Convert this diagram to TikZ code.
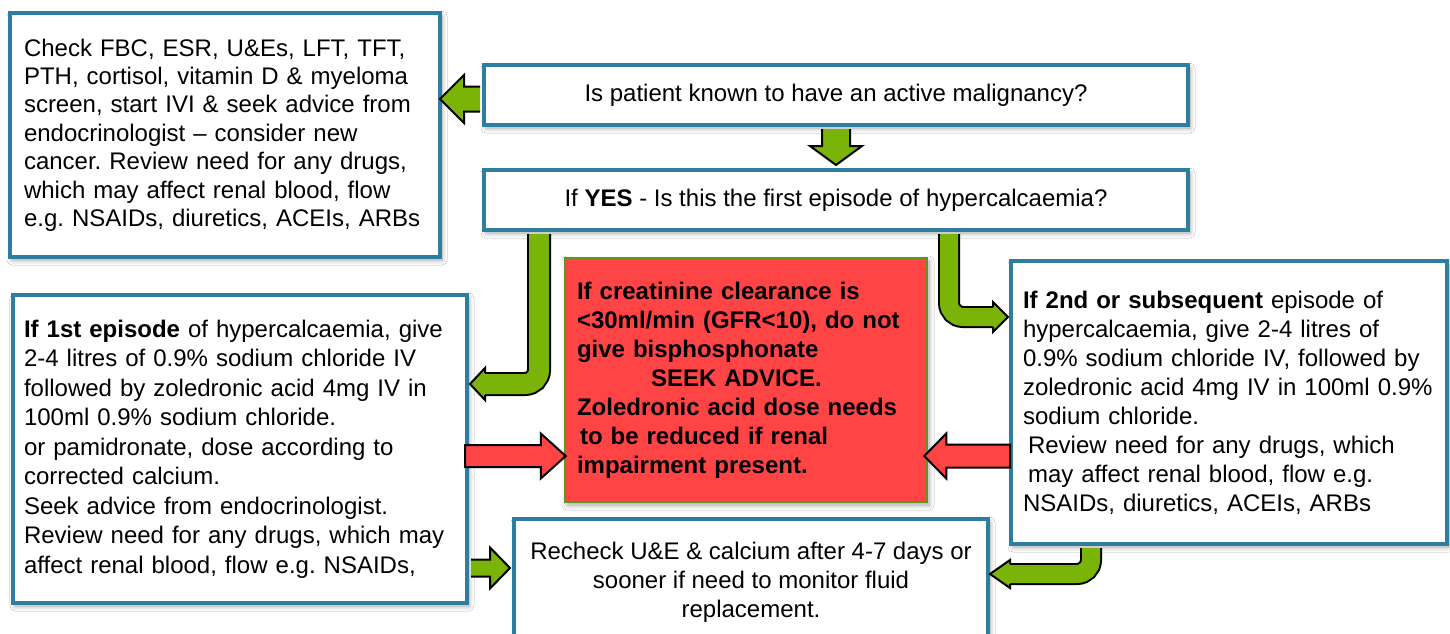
\documentclass[tikz,border=0pt]{standalone}
\usepackage{fontspec}
\setmainfont{Liberation Sans}
\usetikzlibrary{calc,shadows.blur}

\definecolor{boxblue}{RGB}{46,126,162}
\definecolor{arrowgreen}{RGB}{122,180,8}
\definecolor{alertred}{RGB}{255,68,70}
\definecolor{alertedge}{RGB}{96,150,28}

\tikzset{
  softshadow/.style={blur shadow={shadow xshift=2pt, shadow yshift=-3pt,
      shadow blur radius=5pt, shadow blur steps=8, shadow opacity=35}},
  flowbox/.style={draw=boxblue, line width=4pt, fill=white, inner ysep=0pt,
      font=\fontsize{24}{29}\selectfont\frenchspacing, softshadow},
  alertbox/.style={draw=alertedge, line width=2.5pt, fill=alertred, inner ysep=0pt,
      font=\fontsize{24}{29}\selectfont\bfseries\frenchspacing, softshadow},
  garrow/.style={fill=arrowgreen, draw=black, line width=2pt, line join=miter},
  rarrow/.style={fill=alertred, draw=black, line width=2pt, line join=miter},
  gbandout/.style={draw=black, line cap=butt, rounded corners=14pt},
  gbandin/.style={draw=arrowgreen, line cap=butt, rounded corners=14pt},
}

% straight block arrow, open at its start: style, start, tip, shaft half width, head half width, head length
\newcommand{\BlockArrowOpen}[6]{%
  \coordinate (ba-h) at ($#3!#6!#2$);
  \path[#1, draw=none] ($#2!#4!90:#3$) -- ($(ba-h)!#4!-90:#2$) -- ($(ba-h)!#5!-90:#2$) -- #3
     -- ($(ba-h)!#5!90:#2$) -- ($(ba-h)!#4!90:#2$) -- ($#2!#4!-90:#3$) -- cycle;
  \path[#1, fill=none] ($#2!#4!90:#3$) -- ($(ba-h)!#4!-90:#2$) -- ($(ba-h)!#5!-90:#2$) -- #3
     -- ($(ba-h)!#5!90:#2$) -- ($(ba-h)!#4!90:#2$) -- ($#2!#4!-90:#3$);
}
% straight block arrow, closed outline
\newcommand{\BlockArrowShut}[6]{%
  \coordinate (ba-h) at ($#3!#6!#2$);
  \path[#1] ($#2!#4!90:#3$) -- ($(ba-h)!#4!-90:#2$) -- ($(ba-h)!#5!-90:#2$) -- #3
     -- ($(ba-h)!#5!90:#2$) -- ($(ba-h)!#4!90:#2$) -- ($#2!#4!-90:#3$) -- cycle;
}

\begin{document}
\frenchspacing
\begin{tikzpicture}[x=1pt,y=-1pt]
\clip (0,0) rectangle (1450,634);
\fill[white] (0,0) rectangle (1450,634);

% ---- boxes ----
\node[flowbox, minimum width=430pt, minimum height=244pt, inner xsep=14pt,
      text width=402pt, align=left, font=\fontsize{24}{28.4}\selectfont] (b1) at (225,135)
 {Check FBC, ESR, U\&Es, LFT, TFT,\\
  PTH, cortisol, vitamin D \& myeloma\\
  screen, start IVI \& seek advice from\\
  endocrinologist -- consider new\\
  cancer. Review need for any drugs,\\
  which may affect renal blood, flow\\
  e.g. NSAIDs, diuretics, ACEIs, ARBs};

\node[flowbox, minimum width=704pt, minimum height=60pt, align=center] (b2) at (836,95)
 {Is patient known to have an active malignancy?};

\node[flowbox, minimum width=704pt, minimum height=60pt, align=center] (b3) at (836,200)
 {If \textbf{YES} - Is this the first episode of hypercalcaemia?};

\node[flowbox, minimum width=454pt, minimum height=308pt, inner xsep=11pt,
      text width=432pt, align=left, font=\fontsize{24}{29.5}\selectfont] (b4) at (240,449)
 {\textbf{If 1st episode} of hypercalcaemia, give\\
  2-4 litres of 0.9\% sodium chloride IV\\
  followed by zoledronic acid 4mg IV in\\
  100ml 0.9\% sodium chloride.\\
  or pamidronate, dose according to\\
  corrected calcium.\\
  Seek advice from endocrinologist.\\
  Review need for any drugs, which may\\
  affect renal blood, flow e.g. NSAIDs,};

\node[flowbox, minimum width=436pt, minimum height=283pt, inner xsep=12pt,
      text width=412pt, align=left] (b5) at (1229,402.5)
 {\textbf{If 2nd or subsequent} episode of\\
  hypercalcaemia, give 2-4 litres of\\
  0.9\% sodium chloride IV, followed by\\
  zoledronic acid 4mg IV in 100ml 0.9\%\\
  sodium chloride.\\
  \hspace*{5pt}Review need for any drugs, which\\
  \hspace*{5pt}may affect renal blood, flow e.g.\\
  NSAIDs, diuretics, ACEIs, ARBs};

\node[flowbox, minimum width=474pt, minimum height=126pt, inner xsep=3pt,
      text width=468pt, align=flush center] (b6) at (751,582)
 {Recheck U\&E \& calcium after 4-7 days or\\
  sooner if need to monitor fluid\\
  replacement.};

\node[alertbox, minimum width=362pt, minimum height=244pt, inner xsep=12pt,
      text width=338pt, align=left] (red) at (746,380)
 {If creatinine clearance is\\
  <30ml/min (GFR<10), do not\\
  give bisphosphonate\\
  \hspace*{74pt}SEEK ADVICE.\\
  Zoledronic acid dose needs\\
  \hspace*{3pt}to be reduced if renal\\
  impairment present.};

% ---- straight connectors ----
\coordinate (a1s) at ($(b2.west |- 0,99)+(-2,0)$);
\coordinate (a1t) at ($(b1.east |- 0,99)+(-2,0)$);
\BlockArrowOpen{garrow}{(a1s)}{(a1t)}{12.5pt}{24pt}{24pt}

\coordinate (a2s) at ($(b2.south)+(0,2)$);
\coordinate (a2t) at ($(b3.north)+(0,-3)$);
\BlockArrowOpen{garrow}{(a2s)}{(a2t)}{14pt}{26pt}{19pt}

\coordinate (a5s) at ($(b4.east |- 0,568)+(2,0)$);
\coordinate (a5t) at ($(b6.west |- 0,568)+(-2,0)$);
\BlockArrowOpen{garrow}{(a5s)}{(a5t)}{8.5pt}{20.5pt}{20pt}

\coordinate (r1s) at ($(b4.east |- 0,456)+(-4,0)$);
\coordinate (r1t) at ($(red.west |- 0,456)+(2,0)$);
\BlockArrowShut{rarrow}{(r1s)}{(r1t)}{11pt}{22.5pt}{25pt}

\coordinate (r2s) at ($(b5.west |- 0,456)+(1,0)$);
\coordinate (r2t) at ($(red.east |- 0,456)+(-4,0)$);
\BlockArrowShut{rarrow}{(r2s)}{(r2t)}{11.5pt}{22.5pt}{22pt}

% ---- bent connectors ----
% b3 -> b4
\coordinate (l0) at ($(b3.south -| 539,0)+(0,2)$);
\coordinate (l1) at (539,384);
\coordinate (lh) at (485,384);
\coordinate (lt) at ($(b4.east |- lh)+(1,0)$);
\draw[gbandout, line width=24pt] (l0) -- (l1) -- (lh);
\draw[gbandin, line width=20pt] (l0) -- (l1) -- (lh);
\fill[arrowgreen] ($(lh)+(0,-11)$) -- ($(lh)+(0,-16)$) -- (lt) -- ($(lh)+(0,16)$) -- ($(lh)+(0,11)$) -- cycle;
\draw[black, line width=2pt] ($(lh)+(0,-11)$) -- ($(lh)+(0,-16)$) -- (lt) -- ($(lh)+(0,16)$) -- ($(lh)+(0,11)$);

% b3 -> b5
\coordinate (m0) at ($(b3.south -| 949,0)+(0,2)$);
\coordinate (m1) at (949,317);
\coordinate (mh) at (993,317);
\coordinate (mt) at ($(b5.west |- mh)+(-1,0)$);
\draw[gbandout, line width=22pt] (m0) -- (m1) -- (mh);
\draw[gbandin, line width=18pt] (m0) -- (m1) -- (mh);
\fill[arrowgreen] ($(mh)+(0,-10)$) -- ($(mh)+(0,-15)$) -- (mt) -- ($(mh)+(0,15)$) -- ($(mh)+(0,10)$) -- cycle;
\draw[black, line width=2pt] ($(mh)+(0,-10)$) -- ($(mh)+(0,-15)$) -- (mt) -- ($(mh)+(0,15)$) -- ($(mh)+(0,10)$);

% b5 -> b6
\coordinate (n0) at ($(b5.south -| 1091,0)+(0,2)$);
\coordinate (n1) at (1091,574);
\coordinate (nh) at (1010,574);
\coordinate (nt) at ($(b6.east |- nh)+(0,0)$);
\draw[gbandout, line width=22pt] (n0) -- (n1) -- (nh);
\draw[gbandin, line width=18pt] (n0) -- (n1) -- (nh);
\fill[arrowgreen] ($(nh)+(0,-10)$) -- ($(nh)+(0,-14)$) -- (nt) -- ($(nh)+(0,14)$) -- ($(nh)+(0,10)$) -- cycle;
\draw[black, line width=2pt] ($(nh)+(0,-10)$) -- ($(nh)+(0,-14)$) -- (nt) -- ($(nh)+(0,14)$) -- ($(nh)+(0,10)$);
\end{tikzpicture}
\end{document}
